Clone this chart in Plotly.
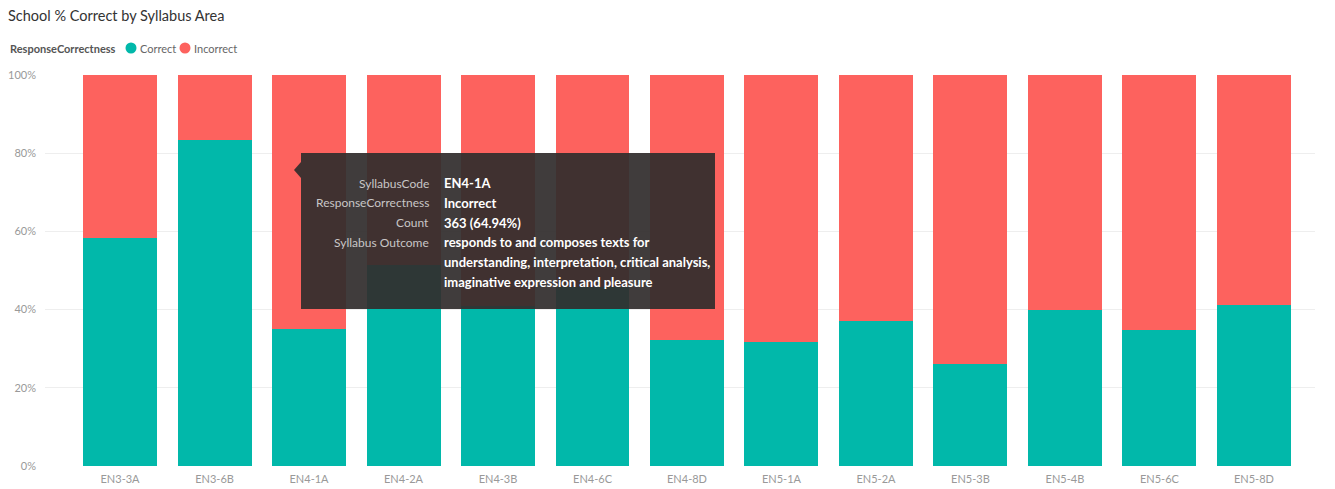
import plotly.graph_objects as go

# ---- data ----
syllabus_codes = ["EN3-3A", "EN3-6B", "EN4-1A", "EN4-2A", "EN4-3B", "EN4-6C", "EN4-8D",
                  "EN5-1A", "EN5-2A", "EN5-3B", "EN5-4B", "EN5-6C", "EN5-8D"]
correct_pct = [58.2, 83.4, 35.06, 51.4, 40.8, 45.8, 32.2, 31.8, 37.2, 26.1, 39.9, 34.7, 41.2]
incorrect_pct = [41.8, 16.6, 64.94, 48.6, 59.2, 54.2, 67.8, 68.2, 62.8, 73.9, 60.1, 65.3, 58.8]
y_tick_vals = [0, 20, 40, 60, 80, 100]
y_tick_text = ["0%", "20%", "40%", "60%", "80%", "100%"]
series_names = ["Correct", "Incorrect"]

tooltip_labels = ["SyllabusCode", "ResponseCorrectness", "Count", "Syllabus Outcome", "", ""]
tooltip_values = ["EN4-1A", "Incorrect", "363 (64.94%)",
                  "responds to and composes texts for",
                  "understanding, interpretation, critical analysis,",
                  "imaginative expression and pleasure"]

TEAL = "#01B8AA"
RED = "#FD625E"
FONT = "Segoe UI, Lato, Noto Sans, sans-serif"

W, H = 1335, 489
L, R, T, B = 45, 1315, 75, 466  # plot area in pixels


def px(x):
    return (x - L) / (R - L)


def py(y):
    return (B - y) / (B - T)


fig = go.Figure()
fig.add_trace(go.Bar(x=syllabus_codes, y=correct_pct, name=series_names[0],
                     marker=dict(color=TEAL, line=dict(width=0)), showlegend=False))
fig.add_trace(go.Bar(x=syllabus_codes, y=incorrect_pct, name=series_names[1],
                     marker=dict(color=RED, line=dict(width=0)), showlegend=False))

shapes = [
    dict(type="rect", xref="paper", yref="paper",
         x0=px(301), x1=px(715), y0=py(309), y1=py(153),
         fillcolor="rgba(50,45,45,0.93)", line=dict(width=0), layer="above"),
    dict(type="path", xref="paper", yref="paper",
         path=f"M {px(301)} {py(162)} L {px(294)} {py(170)} L {px(301)} {py(178)} Z",
         fillcolor="rgba(50,45,45,0.93)", line=dict(width=0), layer="above"),
]

annotations = []
# legend (Power BI style: title, then dot + label)
annotations.append(dict(xref="paper", yref="paper", x=px(8), y=py(48),
                        text="<b>ResponseCorrectness</b>", showarrow=False,
                        xanchor="left", yanchor="middle",
                        font=dict(family=FONT, size=11, color="#555555")))
legend_items = [(series_names[0], TEAL, 131), (series_names[1], RED, 185)]
for name, col, cx in legend_items:
    shapes.append(dict(type="circle", xref="paper", yref="paper",
                       xsizemode="pixel", ysizemode="pixel",
                       xanchor=px(cx), yanchor=py(48),
                       x0=-5.5, x1=5.5, y0=-5.5, y1=5.5,
                       fillcolor=col, line=dict(width=0)))
    annotations.append(dict(xref="paper", yref="paper", x=px(cx + 7), y=py(48),
                            text=name, showarrow=False, xanchor="left", yanchor="middle",
                            font=dict(family=FONT, size=11, color="#666666")))

for i, (lab, val) in enumerate(zip(tooltip_labels, tooltip_values)):
    yy = py(183 + i * 19.8)
    if lab:
        annotations.append(dict(xref="paper", yref="paper", x=px(431), y=yy, text=lab,
                                showarrow=False, xanchor="right", yanchor="middle",
                                font=dict(family=FONT, size=12, color="#c8c6c6")))
    annotations.append(dict(xref="paper", yref="paper", x=px(442), y=yy, text=f"<b>{val}</b>",
                            showarrow=False, xanchor="left", yanchor="middle",
                            font=dict(family=FONT, size=13, color="#ffffff")))

fig.update_layout(
    width=W, height=H,
    barmode="stack",
    bargap=0.217,
    plot_bgcolor="white", paper_bgcolor="white",
    margin=dict(l=L, r=W - R, t=T, b=H - B, autoexpand=False),
    title=dict(text="School % Correct by Syllabus Area", x=8 / W, xanchor="left",
               y=1 - 16 / H, yanchor="middle",
               font=dict(family=FONT, size=14.5, color="#333333")),
    xaxis=dict(range=[-0.794, 12.646], showgrid=False, zeroline=False, showline=False,
               automargin=False, ticklabelstandoff=5,
               tickfont=dict(family=FONT, size=11, color="#999999"), ticks=""),
    yaxis=dict(range=[0, 100], tickvals=y_tick_vals, ticktext=y_tick_text,
               showgrid=True, gridcolor="#eeeeee", gridwidth=1, zeroline=False,
               showline=False, ticks="", ticklabelstandoff=8, automargin=False,
               tickfont=dict(family=FONT, size=11, color="#999999")),
    shapes=shapes,
    annotations=annotations,
    showlegend=False,
)

fig.write_html("out.html")
